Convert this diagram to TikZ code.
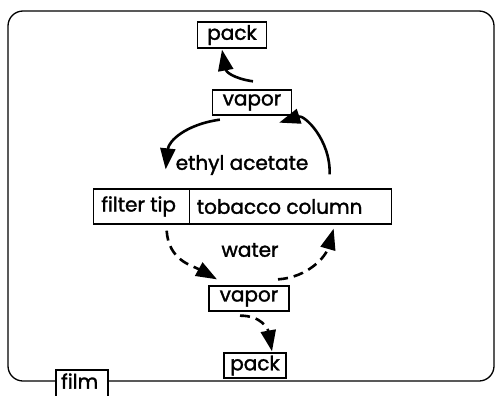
\documentclass[tikz,border=0pt]{standalone}
\usepackage{fontspec}
\setmainfont{Poppins}[FakeBold=1.6]
\usetikzlibrary{arrows.meta}
\begin{document}
\begin{tikzpicture}[x=1pt,y=-1pt,
  box/.style={draw,line width=1.3pt,inner sep=0pt,font=\fontsize{20}{22}\selectfont},
  lbl/.style={inner sep=0pt,font=\fontsize{20}{22}\selectfont},
  flow/.style={line width=2.6pt,-{Triangle[length=21pt,width=15pt]}},
  dflow/.style={flow,dash pattern=on 10pt off 6pt}]
\useasboundingbox (0,0) rectangle (495,396);
\node[box,minimum width=69pt,minimum height=26pt] (pack1) at (232,35) {pack};
\node[box,minimum width=79pt,minimum height=25pt] (vapor1) at (252,102.5) {vapor};
\node[box,minimum width=96pt,minimum height=35pt,anchor=west] (filter) at (93,206.5) {\hspace*{-6pt}filter tip};
\node[box,minimum width=202pt,minimum height=35pt,anchor=west] (tobacco) at (189,206.5) {\hspace*{-22pt}tobacco column};
\node[box,minimum width=80pt,minimum height=25pt] (vapor2) at (249,298.5) {vapor};
\node[box,minimum width=62pt,minimum height=25pt] (pack2) at (255,365.5) {pack};
\node[lbl] (eth) at (242,165) {ethyl acetate};
\node[lbl] (water) at (250,250) {water};
\node[lbl,anchor=west] (film) at (61,381) {film};
% frame
\draw[line width=1.3pt,rounded corners=15pt] (56,381) -- (8,381) -- (8,11) -- (494,11) -- (494,381) -- (108,381);
\draw[line width=1.3pt] (56,396) -- (56,370) -- (108,370) -- (108,396);
% arrows
\draw[flow] ([xshift=1pt,yshift=8pt]vapor1.north) .. controls +(-20,-3) and +(4,22) .. ([xshift=-10pt,yshift=-1pt]pack1.south);
\draw[flow] ([xshift=8pt,yshift=-4pt]vapor1.south west) .. controls +(-35,5) and +(3,-28) .. ([xshift=24pt,yshift=19pt]filter.north);
\draw[flow] ([xshift=39pt,yshift=14pt]tobacco.north) .. controls +(1,-35) and +(25,-8) .. ([xshift=-13pt,yshift=-7pt]vapor1.south east);
\draw[dflow] ([xshift=25pt,yshift=-6pt]filter.south) .. controls +(2,30) and +(-25,-14) .. ([xshift=-32pt,yshift=6pt]vapor2.north);
\draw[dflow] ([xshift=29pt,yshift=6pt]vapor2.north) .. controls +(30,-2) and +(-8,28) .. ([xshift=43pt,yshift=-4pt]tobacco.south);
\draw[dflow] ([xshift=-9pt,yshift=-4pt]vapor2.south) .. controls +(22,0) and +(-4,-22) .. ([xshift=17pt,yshift=1pt]pack2.north);
\end{tikzpicture}
\end{document}
